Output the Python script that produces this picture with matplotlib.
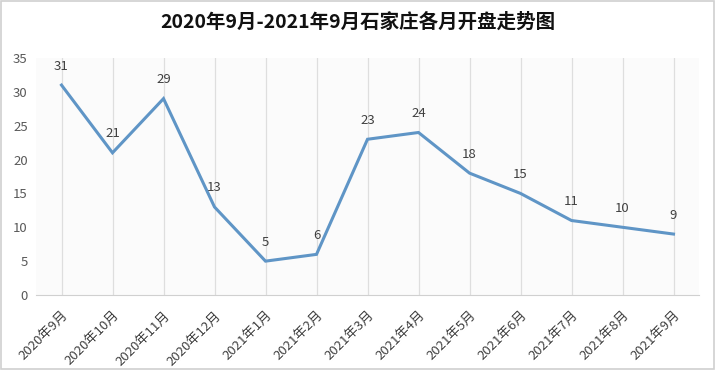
import matplotlib
matplotlib.use("Agg")
import matplotlib.pyplot as plt
from matplotlib.patches import Rectangle
import numpy as np

plt.rcParams['font.family'] = ['Noto Sans CJK SC', 'DejaVu Sans']

months = ["2020年9月", "2020年10月", "2020年11月", "2020年12月", "2021年1月", "2021年2月",
          "2021年3月", "2021年4月", "2021年5月", "2021年6月", "2021年7月", "2021年8月", "2021年9月"]
values = [31, 21, 29, 13, 5, 6, 23, 24, 18, 15, 11, 10, 9]
yticks = [0, 5, 10, 15, 20, 25, 30, 35]
title = "2020年9月-2021年9月石家庄各月开盘走势图"

W, H = 715, 370
fig = plt.figure(figsize=(W / 100, H / 100), dpi=100)
fig.patch.set_facecolor("white")
fig.patches.append(Rectangle((0.001, 0.002), 0.997, 0.995, transform=fig.transFigure,
                             fill=False, edgecolor="#d0d0d0", linewidth=1.2))

left, right, bottom, top = 36, 699, 295, 58
ax = fig.add_axes([left / W, (H - bottom) / H, (right - left) / W, (bottom - top) / H])
ax.set_facecolor("#fbfbfb")

x = np.arange(len(values))
ax.set_xlim(-0.5, len(values) - 0.5)
ax.set_ylim(0, 35)

for xi in x:
    ax.axvline(xi, color="#dedede", linewidth=0.9, zorder=1)

ax.plot(x, values, color="#5f95c6", linewidth=2.2, zorder=3, solid_joinstyle="miter")
for xi, v in zip(x, values):
    ax.annotate(str(v), (xi, v), xytext=(0, 9), textcoords="offset points",
                ha="center", va="bottom", fontsize=9.5, color="#404040")

ax.set_yticks(yticks)
ax.set_yticklabels([str(t) for t in yticks], fontsize=9.5, color="#595959")
ax.set_xticks(x)
ax.set_xticklabels(months, rotation=45, ha="right", rotation_mode="anchor",
                   fontsize=9.5, color="#404040")
ax.tick_params(axis="y", length=0, pad=6)
ax.tick_params(axis="x", length=0, pad=10)

for s in ["top", "right", "left"]:
    ax.spines[s].set_visible(False)
ax.spines["bottom"].set_color("#d0d0d0")

fig.text(0.5, 1 - 22 / H, title, ha="center", va="center", fontsize=14,
         fontweight="bold", color="#111111")

fig.savefig("out.png", dpi=100)
